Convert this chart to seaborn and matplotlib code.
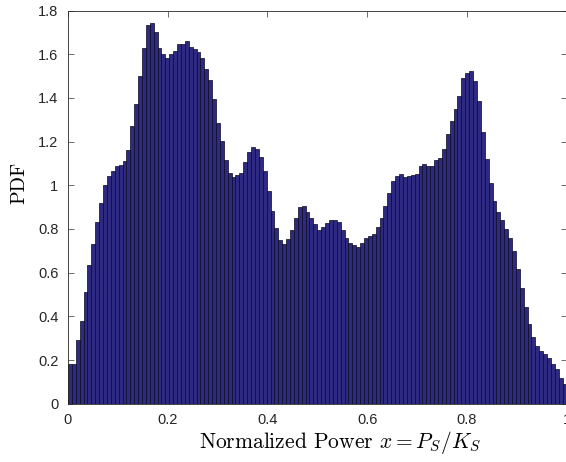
import numpy as np
import pandas as pd
import matplotlib
matplotlib.use("Agg")
import matplotlib.pyplot as plt
from matplotlib.ticker import FuncFormatter
import seaborn as sns

# ---- data: PDF value of each of the 128 equal-width bins on [0, 1] ----
n_bins = 128
pdf_values = [
    0.18, 0.18, 0.29, 0.38, 0.51, 0.635, 0.73, 0.83, 0.92, 1.0,
    1.044, 1.064, 1.09, 1.095, 1.11, 1.16, 1.27, 1.373, 1.50, 1.63,
    1.735, 1.745, 1.70, 1.63, 1.60, 1.585, 1.60, 1.615, 1.647, 1.647,
    1.663, 1.635, 1.624, 1.612, 1.582, 1.531, 1.482, 1.394, 1.287, 1.203,
    1.116, 1.055, 1.038, 1.047, 1.056, 1.105, 1.154, 1.177, 1.166, 1.131,
    1.067, 0.972, 0.881, 0.803, 0.75, 0.73, 0.753, 0.794, 0.849, 0.899,
    0.904, 0.879, 0.849, 0.821, 0.795, 0.811, 0.826, 0.84, 0.84, 0.83,
    0.794, 0.76, 0.737, 0.725, 0.719, 0.734, 0.759, 0.768, 0.776, 0.811,
    0.849, 0.905, 0.963, 1.018, 1.043, 1.052, 1.04, 1.044, 1.049, 1.052,
    1.089, 1.099, 1.089, 1.089, 1.116, 1.125, 1.168, 1.237, 1.296, 1.351,
    1.411, 1.49, 1.513, 1.522, 1.478, 1.388, 1.243, 1.122, 1.011, 0.927,
    0.876, 0.84, 0.802, 0.757, 0.698, 0.615, 0.528, 0.441, 0.363, 0.307,
    0.264, 0.243, 0.229, 0.209, 0.182, 0.159, 0.119, 0.09,
]
x_ticks = [0, 0.2, 0.4, 0.6, 0.8, 1.0]
y_ticks = [0, 0.2, 0.4, 0.6, 0.8, 1.0, 1.2, 1.4, 1.6, 1.8]
x_label = r"Normalized Power $x = P_S/K_S$"
y_label = "PDF"

bin_centers = (np.arange(n_bins) + 0.5) / n_bins
df = pd.DataFrame({"x": bin_centers, "pdf": pdf_values[:n_bins]})

sns.set_style("white")
plt.rcParams["font.family"] = ["Liberation Sans", "DejaVu Sans"]
plt.rcParams["mathtext.fontset"] = "cm"

W, H = 566, 462
fig = plt.figure(figsize=(W / 100, H / 100), dpi=100)
left, right, top, bottom = 68, 566.5, 10.6, 403.7
ax = fig.add_axes([left / W, (H - bottom) / H, (right - left) / W, (bottom - top) / H])

sns.histplot(data=df, x="x", weights="pdf", bins=n_bins, binrange=(0, 1),
             stat="count", color="#2e2a82", edgecolor="#0a0a1e", linewidth=0.5,
             alpha=1.0, ax=ax)

ax.set_xlim(0, 1)
ax.set_ylim(0, 1.8)
ax.set_xticks(x_ticks)
ax.set_yticks(y_ticks)
fmt = FuncFormatter(lambda v, p: "%g" % round(v, 2))
ax.xaxis.set_major_formatter(fmt)
ax.yaxis.set_major_formatter(fmt)

axis_col = "#262626"
for s in ax.spines.values():
    s.set_visible(True)
    s.set_color(axis_col)
    s.set_linewidth(0.6)
ax.tick_params(direction="in", length=4.5, width=0.6, color="#555555",
               labelsize=10.5, labelcolor=axis_col, top=True, right=True,
               bottom=True, left=True, pad=7)

ax.set_xlabel(x_label, fontsize=15.5, family="cmr10", color="black")
ax.xaxis.set_label_coords(0.546, -0.064)
ax.set_ylabel(y_label, fontsize=14.5, family="cmr10", color="black")
ax.yaxis.set_label_coords(-0.08, 0.563)

fig.savefig("out.png", dpi=100)
